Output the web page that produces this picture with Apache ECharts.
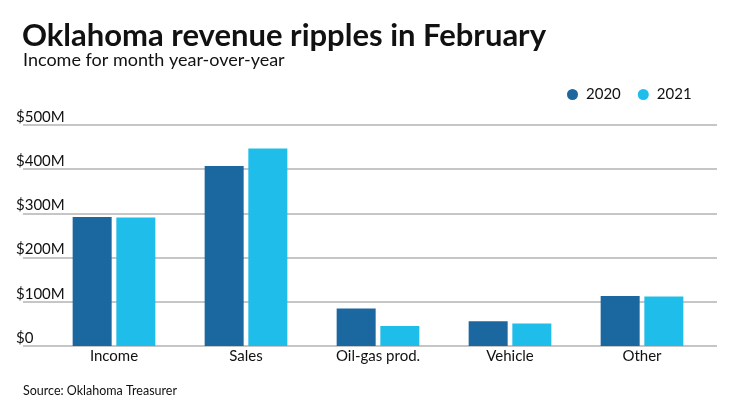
<!DOCTYPE html>
<html>
<head>
<meta charset="utf-8">
<script src="https://cdn.jsdelivr.net/npm/echarts@6/dist/echarts.min.js"></script>
<style>
html,body{margin:0;padding:0;background:#fff;}
#chart{width:740px;height:416px;}
</style>
</head>
<body>
<div id="chart"></div>
<script>
var categories = ['Income', 'Sales', 'Oil-gas prod.', 'Vehicle', 'Other'];
var values2020 = [292, 407, 85, 56, 113];
var values2021 = [291, 447, 45, 51, 112];
var yTickLabels = ['$0', '$100M', '$200M', '$300M', '$400M', '$500M'];
var seriesNames = ['2020', '2021'];

var FONT = 'Lato, "Noto Sans", sans-serif';
var chart = echarts.init(document.getElementById('chart'));
chart.setOption({
  animation: false,
  backgroundColor: '#fff',
  title: [
    {text: 'Oklahoma revenue ripples in February', left: 22, top: 20, padding: 0,
     textStyle: {fontFamily: FONT, fontSize: 31, fontWeight: 'bold', color: '#111'}},
    {text: 'Income for month year-over-year', left: 23, top: 51, padding: 0,
     textStyle: {fontFamily: FONT, fontSize: 18, fontWeight: 'normal', color: '#111'}},
    {text: 'Source: Oklahoma Treasurer', left: 23, top: 384, padding: 0,
     textStyle: {fontFamily: FONT, fontSize: 12.5, fontWeight: 'normal', color: '#111'}}
  ],
  legend: {
    data: seriesNames, left: 567, top: 87, padding: 0, icon: 'circle', itemWidth: 11, itemHeight: 11,
    itemGap: 17, textStyle: {fontFamily: FONT, fontSize: 15, color: '#111', padding: [0, 0, 0, 3]}
  },
  grid: [
    {left: 23, right: 23, top: 125, bottom: 70},
    {left: 48, right: 32, top: 125, bottom: 70}
  ],
  xAxis: [
    {gridIndex: 0, type: 'value', show: false, min: 0, max: 1},
    {gridIndex: 1, type: 'category', data: categories,
     axisLine: {show: false}, axisTick: {show: false},
     axisLabel: {fontFamily: FONT, fontSize: 15, color: '#111', margin: 3}}
  ],
  yAxis: [
    {gridIndex: 0, type: 'value', min: 0, max: 500, interval: 100,
     axisLine: {show: false}, axisTick: {show: false},
     splitLine: {lineStyle: {color: '#b3b3b3', width: 1.5}},
     axisLabel: {fontFamily: FONT, fontSize: 15, color: '#111', align: 'left', margin: 7,
       verticalAlign: 'bottom', lineHeight: 16,
       formatter: function (v) { return yTickLabels[Math.round(v / 100)]; }}},
    {gridIndex: 1, type: 'value', min: 0, max: 500, interval: 100, show: false,
     splitLine: {show: false}}
  ],
  series: [
    {name: seriesNames[0], type: 'bar', xAxisIndex: 1, yAxisIndex: 1, data: values2020,
     barWidth: 39, barGap: '12%', itemStyle: {color: '#1b679f'}},
    {name: seriesNames[1], type: 'bar', xAxisIndex: 1, yAxisIndex: 1, data: values2021,
     barWidth: 39, barGap: '12%', itemStyle: {color: '#1fbde9'}}
  ]
});
</script>
</body>
</html>
